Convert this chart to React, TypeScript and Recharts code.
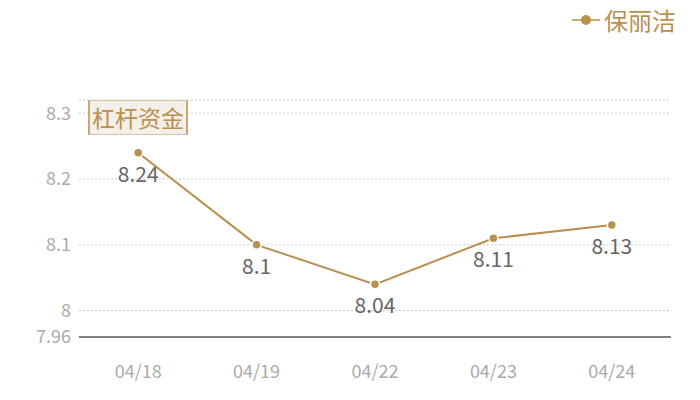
import React from "react";
import {
  CartesianGrid,
  Line,
  LineChart,
  XAxis,
  YAxis,
  LabelList,
} from "recharts";

const dates = ["04/18", "04/19", "04/22", "04/23", "04/24"];
const leverage = [8.24, 8.1, 8.04, 8.11, 8.13];
const yTicks = [7.96, 8, 8.1, 8.2, 8.3, 8.32];

const GOLD = "#b8904f";
const FONT = '"Noto Sans CJK SC", "Noto Sans", sans-serif';

const data = dates.map((d, i) => ({ date: d, value: leverage[i] }));

const ValueLabel = (props: any) => {
  const { x, y, value } = props;
  return (
    <text
      x={x}
      y={y + 29}
      textAnchor="middle"
      fill="#666"
      fontSize={21}
      fontFamily={FONT}
    >
      {value}
    </text>
  );
};

const App: React.FC = () => {
  return (
    <div
      style={{
        position: "absolute",
        left: 0,
        top: 0,
        width: 700,
        height: 400,
        background: "#fff",
        fontFamily: FONT,
      }}
    >
      <LineChart
        width={700}
        height={400}
        data={data}
        margin={{ top: 100, right: 29, left: 0, bottom: 33 }}
      >
        <CartesianGrid
          horizontal
          vertical={false}
          stroke="#c8c8c8"
          strokeDasharray="2 2"
        />
        <XAxis
          dataKey="date"
          scale="band"
          height={30}
          stroke="#111"
          axisLine={{ stroke: "#111" }}
          tickLine={false}
          tickMargin={22}
          tick={{ fill: "#aaa", fontSize: 18, stroke: "none" }}
        />
        <YAxis
          width={79}
          domain={[7.96, 8.32]}
          ticks={yTicks}
          interval={0}
          axisLine={false}
          tickLine={false}
          tickFormatter={(v: number) => (v === 8.32 ? "" : String(v))}
          tick={{ fill: "#aaa", fontSize: 18 }}
        />
        <Line
          type="linear"
          dataKey="value"
          stroke={GOLD}
          strokeWidth={2}
          dot={{ r: 4.5, fill: GOLD, stroke: "#fff", strokeWidth: 1.5 }}
          isAnimationActive={false}
        >
          <LabelList dataKey="value" content={ValueLabel} />
        </Line>
      </LineChart>
      <div
        style={{
          position: "absolute",
          right: 24,
          top: 4,
          display: "flex",
          alignItems: "center",
          color: GOLD,
          fontSize: 24,
          lineHeight: "32px",
        }}
      >
        <svg width={30} height={14} style={{ marginRight: 2 }}>
          <line x1={0} y1={7} x2={28} y2={7} stroke={GOLD} strokeWidth={1.5} />
          <circle cx={14} cy={7} r={5} fill={GOLD} />
        </svg>
        <span>保丽洁</span>
      </div>
      <div
        style={{
          position: "absolute",
          left: 88,
          top: 100,
          width: 100,
          height: 35,
          background: "#f4efe8",
          border: "1px solid #d8c3a0",
          borderLeft: "2px solid #c9a674",
          borderRight: "2px solid #c9a674",
          color: GOLD,
          fontSize: 23,
          lineHeight: "33px",
          textAlign: "center",
          boxSizing: "border-box",
        }}
      >
        杠杆资金
      </div>
    </div>
  );
};

export default App;
